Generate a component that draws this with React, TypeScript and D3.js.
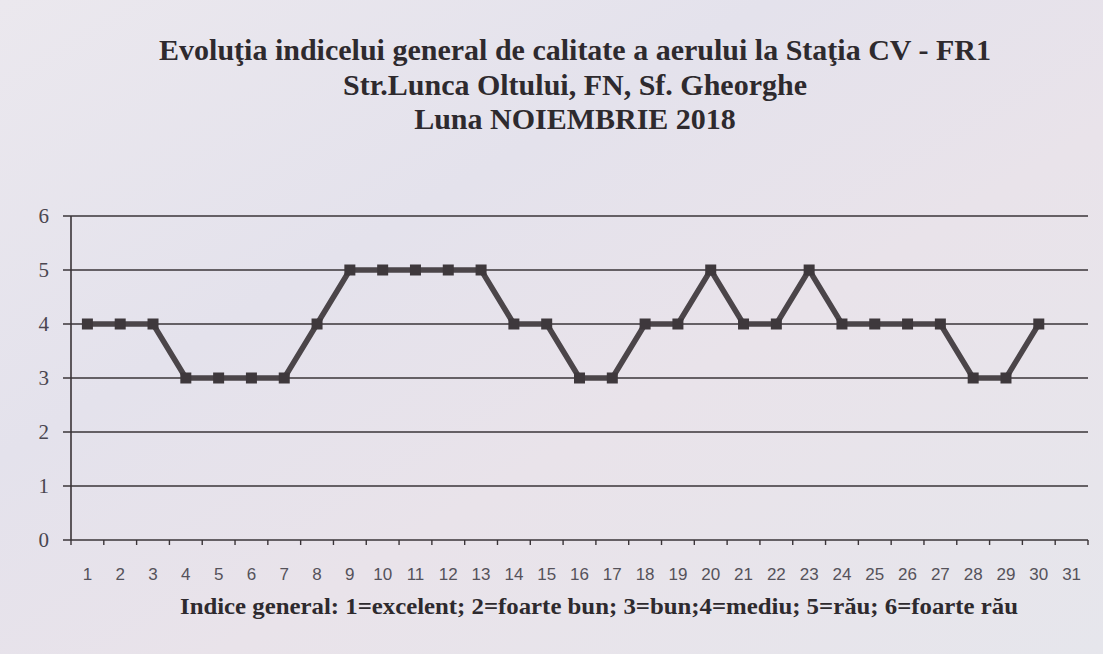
import React from "react";
import * as d3 from "d3";

const days: number[] = d3.range(1, 32);
const values: number[] = [4, 4, 4, 3, 3, 3, 3, 4, 5, 5, 5, 5, 5, 4, 4, 3, 3, 4, 4, 5, 4, 4, 5, 4, 4, 4, 4, 3, 3, 4];
const yTicks: number[] = [0, 1, 2, 3, 4, 5, 6];
const titleLines: string[] = [
  "Evoluţia indicelui general de calitate a aerului la Staţia CV - FR1",
  "Str.Lunca Oltului, FN, Sf. Gheorghe",
  "Luna NOIEMBRIE 2018",
];
const legendText = "Indice general: 1=excelent; 2=foarte bun; 3=bun;4=mediu; 5=rău; 6=foarte rău";

const W = 1103;
const H = 654;
const plot = { left: 71, right: 1088, top: 216, bottom: 540 };

export default function App() {
  const x = d3.scaleBand<number>().domain(days).range([plot.left, plot.right]);
  const y = d3.scaleLinear().domain([0, 6]).range([plot.bottom, plot.top]);
  const pts = values.map((v, i) => [x(days[i])! + x.bandwidth() / 2, y(v)] as [number, number]);
  const line = d3.line()(pts) || "";
  const tickXs = d3.range(0, days.length + 1).map((k) => plot.left + k * x.step());

  return (
    <svg
      width={W}
      height={H}
      style={{ position: "absolute", left: 0, top: 0, display: "block" }}
      viewBox={`0 0 ${W} ${H}`}
    >
      <defs>
        <linearGradient id="bg" x1="0" y1="0" x2="1" y2="1">
          <stop offset="0" stopColor="#ebe8ee" />
          <stop offset="0.35" stopColor="#e4e2ec" />
          <stop offset="0.6" stopColor="#e9e3ea" />
          <stop offset="1" stopColor="#e6e6ec" />
        </linearGradient>
      </defs>
      <rect x={0} y={0} width={W} height={H} fill="url(#bg)" />

      {titleLines.map((t, i) => (
        <text
          key={i}
          x={575}
          y={60 + i * 34.5}
          textAnchor="middle"
          fontFamily="'Liberation Serif', 'Times New Roman', serif"
          fontWeight="bold"
          fontSize={30}
          fill="#2e2a2e"
        >
          {t}
        </text>
      ))}

      {yTicks.map((t) => (
        <g key={t}>
          <line x1={63} x2={plot.right} y1={y(t)} y2={y(t)} stroke="#3a3438" strokeWidth={1.6} />
          <text
            x={49}
            y={y(t)}
            dy="0.35em"
            textAnchor="end"
            fontFamily="'Liberation Serif', 'Times New Roman', serif"
            fontSize={21}
            fill="#4a4650"
          >
            {t}
          </text>
        </g>
      ))}
      <line x1={plot.left} x2={plot.left} y1={plot.top} y2={plot.bottom} stroke="#3a3438" strokeWidth={1.6} />
      {tickXs.map((tx, i) => (
        <line key={i} x1={tx} x2={tx} y1={plot.bottom} y2={plot.bottom + 5} stroke="#3a3438" strokeWidth={1.4} />
      ))}
      {days.map((d) => (
        <text
          key={d}
          x={x(d)! + x.bandwidth() / 2}
          y={580}
          textAnchor="middle"
          fontFamily="'Liberation Sans', Arial, sans-serif"
          fontSize={17}
          fill="#55525a"
        >
          {d}
        </text>
      ))}

      <path d={line} fill="none" stroke="#4b4549" strokeWidth={5.5} strokeLinejoin="round" />
      {pts.map((p, i) => (
        <rect key={i} x={p[0] - 5.5} y={p[1] - 5.5} width={11} height={11} fill="#3e383c" />
      ))}

      <text
        x={599}
        y={614}
        textAnchor="middle"
        fontFamily="'Liberation Serif', 'Times New Roman', serif"
        fontWeight="bold"
        fontSize={24}
        textLength={838}
        lengthAdjust="spacingAndGlyphs"
        fill="#2e2a2e"
      >
        {legendText}
      </text>
    </svg>
  );
}
